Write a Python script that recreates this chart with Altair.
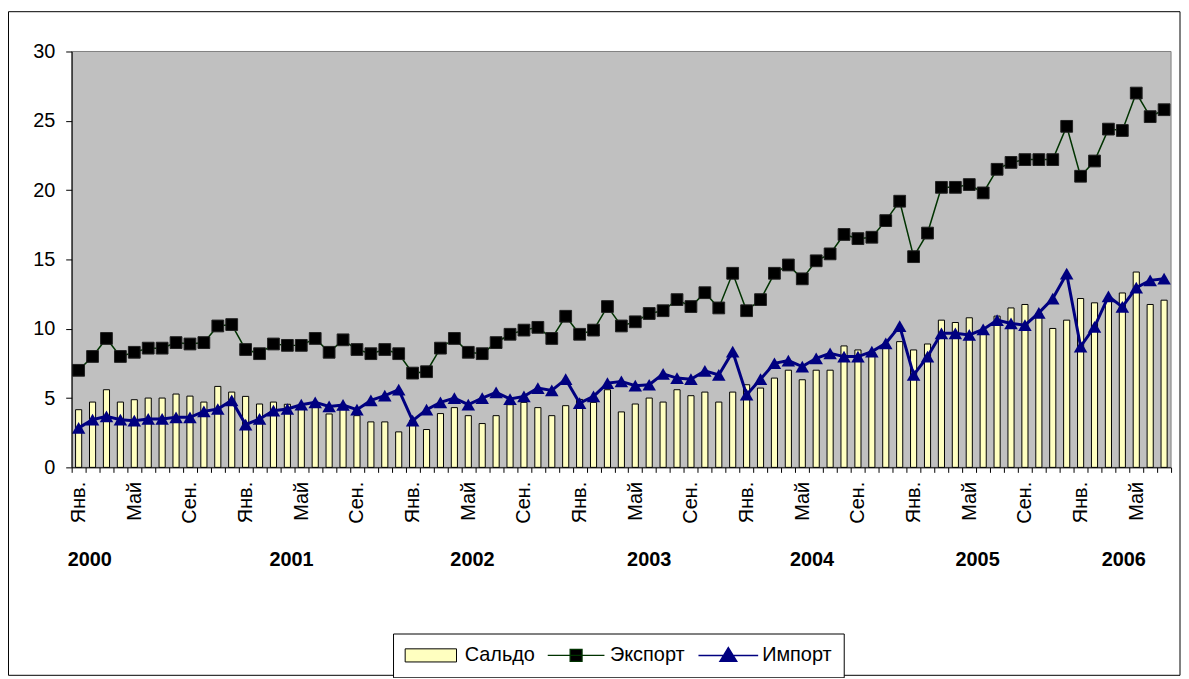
import altair as alt
import pandas as pd

series_names = ["Сальдо", "Экспорт", "Импорт"]
legend_fill = ["#FFFFC0", "#000000", "#000080"]
legend_stroke = ["#000000", "#003300", "#000080"]
legend_stroke_width = [1, 1.5, 3]
legend_shape = [
    "M-4.3,-1.1H4.3V1.1H-4.3Z",
    "M-4.75,0H4.75M-1,-1H1V1H-1Z",
    "M-5,0H5M-1.4,1L0,-1.3L1.4,1Z",
]
month_names = ["Янв.", "Май", "Сен."]
month_label_at = [0, 4, 8]
year_labels = ["2000", "2001", "2002", "2003", "2004", "2005", "2006"]
year_label_pos = [0.8, 15.3, 28.3, 41.0, 52.7, 64.6, 75.1]

export = [
    7.0, 8.0, 9.3, 8.0, 8.3, 8.6, 8.6, 9.0, 8.9, 9.0, 10.2, 10.3,
    8.5, 8.2, 8.9, 8.8, 8.8, 9.3, 8.3, 9.2, 8.5, 8.2, 8.5, 8.2,
    6.8, 6.9, 8.6, 9.3, 8.3, 8.2, 9.0, 9.6, 9.9, 10.1, 9.3, 10.9,
    9.6, 9.9, 11.6, 10.2, 10.5, 11.1, 11.3, 12.1, 11.6, 12.6, 11.5, 14.0,
    11.3, 12.1, 14.0, 14.6, 13.6, 14.9, 15.4, 16.8, 16.5, 16.6, 17.8, 19.2,
    15.2, 16.9, 20.2, 20.2, 20.4, 19.8, 21.5, 22.0, 22.2, 22.2, 22.2, 24.6,
    21.0, 22.1, 24.4, 24.3, 27.0, 25.3, 25.8,
]
imports = [
    2.85, 3.44, 3.68, 3.44, 3.37, 3.49, 3.49, 3.61, 3.61, 4.04, 4.21, 4.83,
    3.09, 3.49, 4.09, 4.21, 4.52, 4.69, 4.40, 4.50, 4.16, 4.83, 5.17, 5.60,
    3.37, 4.16, 4.69, 5.00, 4.52, 5.00, 5.41, 4.93, 5.12, 5.72, 5.55, 6.36,
    4.64, 5.12, 6.08, 6.20, 5.89, 5.96, 6.75, 6.44, 6.36, 6.96, 6.67, 8.35,
    5.24, 6.36, 7.51, 7.70, 7.27, 7.87, 8.23, 7.99, 7.99, 8.35, 8.95, 10.19,
    6.67, 7.99, 9.67, 9.67, 9.55, 9.95, 10.62, 10.38, 10.26, 11.15, 12.18, 13.97,
    8.71, 10.14, 12.34, 11.58, 12.97, 13.49, 13.61,
]
saldo = [
    4.16, 4.71, 5.60, 4.71, 4.88, 5.00, 5.00, 5.29, 5.14, 4.71, 5.84, 5.43,
    5.12, 4.57, 4.71, 4.55, 4.24, 4.66, 3.85, 4.50, 3.73, 3.28, 3.28, 2.56,
    3.40, 2.73, 3.88, 4.31, 3.73, 3.16, 3.73, 4.52, 4.69, 4.31, 3.73, 4.45,
    4.90, 4.69, 5.60, 4.00, 4.57, 5.00, 4.71, 5.60, 5.17, 5.43, 4.71, 5.43,
    5.96, 5.72, 6.44, 7.01, 6.32, 7.01, 7.01, 8.76, 8.47, 8.30, 8.59, 9.07,
    8.47, 8.90, 10.62, 10.45, 10.79, 9.80, 10.91, 11.50, 11.75, 11.10, 10.02, 10.62,
    12.18, 11.87, 12.00, 12.58, 14.09, 11.75, 12.06,
]

n = len(export)
idx = list(range(n))
bars_df = pd.DataFrame({"idx": idx, "value": saldo})
exp_df = pd.DataFrame({"idx": idx, "value": export})
imp_df = pd.DataFrame({"idx": idx, "value": imports})
years_df = pd.DataFrame({"pos": year_label_pos, "label": year_labels})
legend_df = pd.DataFrame({"series": series_names})

FONT = "Liberation Sans"
W, H = 1105, 418

label_expr = " : ".join(
    f"datum.value % 12 == {m} ? '{name}'" for m, name in zip(month_label_at, month_names)
) + " : ''"

x_enc = alt.X(
    "idx:O",
    scale=alt.Scale(paddingInner=0, paddingOuter=0),
    axis=alt.Axis(
        title=None, tickBand="extent", tickSize=5, labelAngle=-90, labelPadding=9,
        labelExpr=label_expr, labelOverlap=False, domainColor="black", tickColor="black",
        labelFont=FONT, labelFontSize=20, labelColor="black", zindex=1,
    ),
)
y_enc = alt.Y(
    "value:Q",
    scale=alt.Scale(domain=[0, 30], nice=False),
    axis=alt.Axis(
        title=None, values=[0, 5, 10, 15, 20, 25, 30], tickSize=6, labelPadding=11,
        grid=False, domainColor="black", tickColor="black",
        labelFont=FONT, labelFontSize=20, labelColor="black", zindex=1,
    ),
)

bars = alt.Chart(bars_df).mark_bar(
    width=alt.RelativeBandSize(0.44), fill="#FFFFC0", stroke="black", strokeWidth=1, opacity=1
).encode(x=x_enc, y=y_enc)

exp_line = alt.Chart(exp_df).mark_line(strokeWidth=1.5, color="#003300").encode(x="idx:O", y="value:Q")
exp_pts = alt.Chart(exp_df).mark_point(
    shape="square", filled=True, size=140, fill="black", stroke="#202020", strokeWidth=1, opacity=1
).encode(x="idx:O", y="value:Q")
imp_line = alt.Chart(imp_df).mark_line(strokeWidth=3, color="#000080").encode(x="idx:O", y="value:Q")
imp_pts = alt.Chart(imp_df).mark_point(
    shape="triangle-up", filled=True, size=185, fill="#000080", opacity=1
).encode(x="idx:O", y="value:Q")

legend = alt.Legend(
    orient="none", legendX=323, legendY=585, direction="horizontal", title=None,
    labelFont=FONT, labelFontSize=20, labelColor="black",
    strokeColor="black", fillColor="white", padding=12,
    symbolSize=144, symbolOffset=16, labelOffset=24, columnPadding=10, symbolOpacity=1,
)
legend_layer = alt.Chart(legend_df).mark_point(filled=True, size=0, opacity=1).encode(
    color=alt.Color("series:N", scale=alt.Scale(domain=series_names, range=legend_fill), legend=legend),
    stroke=alt.Stroke("series:N", scale=alt.Scale(domain=series_names, range=legend_stroke)),
    shape=alt.Shape("series:N", scale=alt.Scale(domain=series_names, range=legend_shape)),
    strokeWidth=alt.StrokeWidth("series:N", scale=alt.Scale(domain=series_names, range=legend_stroke_width)),
)

inner = alt.layer(bars, exp_line, exp_pts, imp_line, imp_pts, legend_layer)

plot_bg = alt.Chart(pd.DataFrame({"k": [0]})).mark_rect(
    fill="#C0C0C0", stroke="#808080", strokeWidth=1
).encode(x=alt.value(0), x2=alt.value(W), y=alt.value(0), y2=alt.value(H))

years = alt.Chart(years_df).mark_text(
    font=FONT, fontSize=20, fontWeight="bold", color="black", baseline="middle", clip=False
).encode(
    x=alt.X("pos:Q", scale=alt.Scale(domain=[-0.5, n - 0.5], nice=False, zero=False), axis=None),
    y=alt.value(511),
    text="label:N",
)

frame = alt.Chart(pd.DataFrame({"k": [0]})).mark_rect(
    fill="transparent", stroke="black", strokeWidth=1, clip=False
).encode(x=alt.value(-63.5), x2=alt.value(1114), y=alt.value(-40), y2=alt.value(627))

chart = alt.layer(plot_bg, inner, years, frame).resolve_scale(x="independent").properties(
    width=W, height=H,
    background="white",
    autosize=alt.AutoSizeParams(type="none"),
    padding={"left": 64, "top": 42, "right": 10, "bottom": 210},
).configure_view(stroke=None)

chart.save("out.html", embed_options={"renderer": "svg", "actions": False})
